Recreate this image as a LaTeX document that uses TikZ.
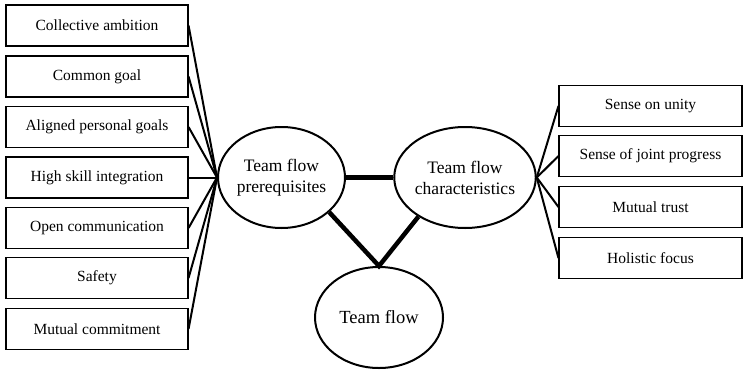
\documentclass[tikz,border=0pt]{standalone}
\usepackage{fontspec}
\setmainfont{Liberation Serif}
\usetikzlibrary{shapes.geometric}
\tikzset{
  item/.style={draw=black, line width=1.1pt, rectangle, minimum width=182pt, minimum height=41pt, inner sep=0pt, font=\fontsize{15.5}{18}\selectfont},
  oval/.style={draw=black, line width=2pt, ellipse, minimum width=127pt, minimum height=101pt, inner sep=0pt, align=center, font=\fontsize{17.5}{21}\selectfont},
  thin/.style={line width=2pt},
  thick/.style={line width=4.5pt}
}
\begin{document}
\begin{tikzpicture}[x=1pt,y=-1pt]
\useasboundingbox (0,0) rectangle (743,372);
% left boxes
\node[item] (l1) at (97,25.5) {Collective ambition};
\node[item] (l2) at (97,76.5) {Common goal};
\node[item] (l3) at (97,127) {Aligned personal goals};
\node[item] (l4) at (97,177.5) {High skill integration};
\node[item] (l5) at (97,228) {Open communication};
\node[item] (l6) at (97,278) {Safety};
\node[item] (l7) at (97,329) {Mutual commitment};
% right boxes
\node[item, minimum width=183pt] (r1) at (650.5,106) {Sense on unity};
\node[item, minimum width=183pt] (r2) at (650.5,156) {Sense of joint progress};
\node[item, minimum width=183pt] (r3) at (650.5,207) {Mutual trust};
\node[item, minimum width=183pt] (r4) at (650.5,258) {Holistic focus};
% ellipses
\node[oval] (pre) at (281.5,177.5) {Team flow\\prerequisites};
\node[oval] (chr) at (465,177.5) {Team flow\\characteristics};
\node[oval, minimum width=128pt, font=\fontsize{18.5}{22}\selectfont] (tf) at (379,317.5) {Team flow};
% thin connectors
\foreach \i in {1,...,7} {\draw[thin] (l\i.east) -- (pre.west);}
\foreach \i in {1,...,4} {\draw[thin] (r\i.west) -- (chr.east);}
% thick connectors
\draw[thick] (pre.east) -- (chr.west);
\draw[thick, line join=miter] (pre.-36) -- (tf.north) -- (chr.-140);
\end{tikzpicture}
\end{document}
